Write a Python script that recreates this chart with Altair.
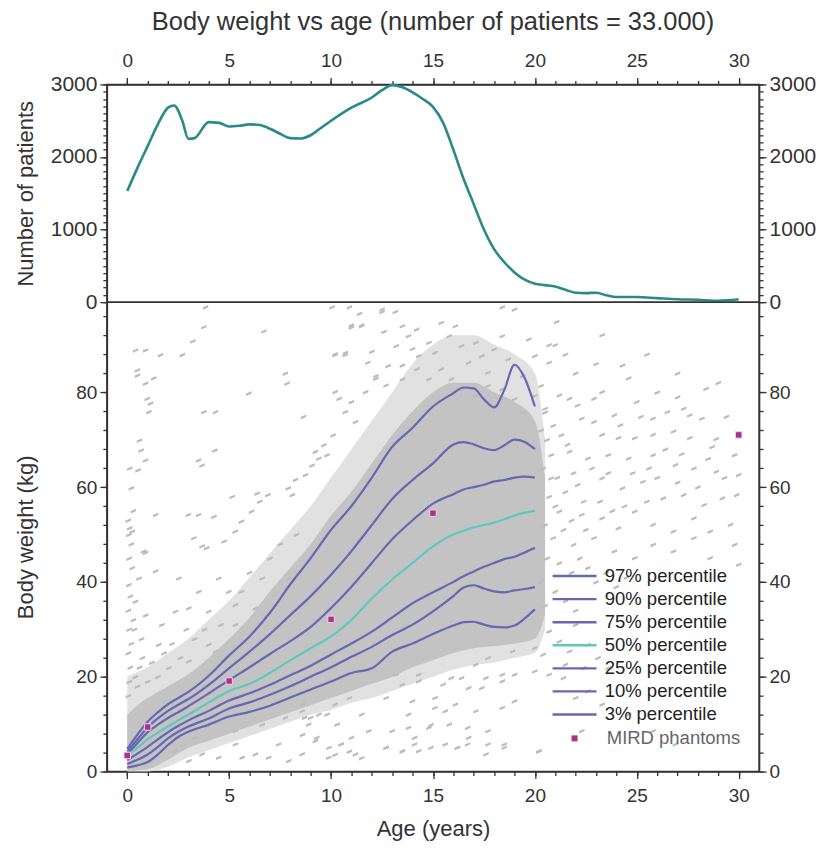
import altair as alt
import pandas as pd

FONT = "Liberation Sans"
TXT = "#333333"
X_DOMAIN = [-1, 31]
W, H_TOP, H_BOT = 653, 218, 470

# ---------------- top panel: number of patients per age ----------------
count_age = [0, 0.5, 1, 1.5, 2, 2.3, 2.7, 3, 3.3, 4, 4.5, 5, 5.5, 6, 6.5, 7, 7.5, 8, 8.5, 9, 9.5, 10,
             11, 12, 12.5, 13, 13.5, 14, 14.5, 15, 15.5, 16, 16.5, 17, 17.5, 18, 18.5, 19, 19.5, 20,
             20.5, 21, 21.5, 22, 22.5, 23, 23.5, 24, 25, 26, 27, 28, 29, 30]
count_n = [1530, 1850, 2150, 2450, 2680, 2710, 2500, 2250, 2260, 2480, 2470, 2420, 2430, 2450, 2440,
           2390, 2320, 2260, 2255, 2300, 2400, 2500, 2680, 2820, 2920, 2990, 2960, 2890, 2800, 2690,
           2470, 2100, 1700, 1350, 1000, 730, 550, 410, 310, 255, 235, 215, 170, 130, 125, 130, 95,
           70, 70, 55, 40, 33, 20, 40]

# ---------------- percentile curves ----------------
pct_age = [0, 0.5, 1, 1.5, 2, 2.5, 3, 4, 5, 6, 7, 8, 9, 10, 11, 12, 13, 14, 15, 16, 16.5, 17, 17.5,
           18, 18.5, 19, 19.5, 20]
p97 = [4.8, 7.8, 10.5, 12.5, 14.2, 15.5, 16.8, 20.2, 24.5, 28.5, 33.5, 39.5, 45, 51, 56, 62, 68.5,
       72.5, 77, 79.8, 81, 80.8, 78.5, 76.8, 80.5, 85.8, 83, 77]
p90 = [4.2, 6.8, 9.3, 11.2, 12.8, 14.1, 15.3, 18.3, 21.8, 25.3, 29, 33, 37, 41.5, 46.5, 52, 57.5,
       61.5, 65, 69, 69.5, 69, 68.2, 67.8, 68.8, 70, 69.5, 68]
p75 = [3.7, 6.0, 8.3, 9.9, 11.3, 12.5, 13.8, 16.5, 19.3, 22, 24.8, 27.5, 30.5, 34.5, 39, 44, 49, 53,
       56.5, 58.5, 59.5, 60, 60.5, 61.2, 61.5, 62, 62.2, 62]
p50 = [3.4, 5.0, 6.8, 8.2, 9.5, 10.8, 12, 14.6, 17, 18.5, 20.8, 23.5, 26, 28.5, 32, 36.5, 40.5, 44,
       47.5, 50, 50.8, 51.5, 52, 52.5, 53.2, 54, 54.6, 55]
p25 = [2.4, 3.8, 5.2, 6.8, 8.3, 9.6, 10.8, 12.8, 15, 16.5, 18.3, 20.3, 22.3, 24.7, 27, 29.5, 32.5,
       35.5, 37.8, 40, 41.2, 42.2, 43.2, 44, 44.8, 45.3, 46.2, 47.2]
p10 = [1.6, 2.5, 3.6, 5.2, 7, 8.4, 9.5, 11.2, 13.3, 14.6, 16.2, 18, 20, 22, 24.2, 26.3, 28.8, 31,
       33.8, 37, 38.8, 39.3, 38.6, 38, 37.8, 38.2, 38.5, 38.9]
p03 = [0.9, 1.3, 2, 3.6, 5.6, 7.3, 8.4, 9.9, 11.6, 12.6, 13.9, 15.6, 17.3, 19, 20.8, 21.8, 25.3, 27,
       29, 30.8, 31.5, 31.6, 31, 30.5, 30.4, 30.8, 32.3, 34.2]
pct_labels = ["97% percentile", "90% percentile", "75% percentile", "50% percentile",
              "25% percentile", "10% percentile", "3% percentile"]
pct_series = [p97, p90, p75, p50, p25, p10, p03]
pct_colors = ["#6767b3", "#6767b3", "#6767b3", "#5ec8bf", "#6767b3", "#6767b3", "#6767b3"]

# ---------------- MIRD phantoms ----------------
mird_age = [0, 1, 5, 10, 15, 30]
mird_kg = [3.4, 9.4, 19.1, 32.1, 54.5, 71.0]

# ---------------- patient cloud: dense core and lighter fringe ----------------
cloud_age = [0, 0.5, 1, 2, 3, 4, 5, 6, 7, 8, 9, 10, 11, 12, 13, 14, 15, 16, 17, 18, 19, 20, 20.5]
core_lo = [0.2, 0.3, 0.5, 2.5, 5, 6.5, 8, 9.5, 11, 12.5, 14, 15.5, 17, 18.5, 20, 22, 23.5, 25, 26,
           26.5, 27, 28, 33]
core_hi = [12, 14, 15.5, 18, 20.5, 24, 28, 32.5, 38, 43, 48, 54, 59, 65, 71, 76, 80, 82, 82, 80, 78,
           74, 62]
fringe_lo = [0, 0, 0, 1, 3, 4.5, 6, 7.5, 9, 10.5, 12, 13, 14.5, 15.5, 17, 18.5, 20, 21.5, 22.5, 23,
             24, 25, 30]
fringe_hi = [20, 21, 22, 25, 28, 32, 36, 41, 46, 51, 56, 62, 68, 74, 80, 86, 90, 92, 92, 90, 88, 84,
             70]

# ---------------- patient cloud: sparse individual patients ----------------
sc_age = [3.84, 3.76, 0.41, 0.9, 1.63, 2.7, 3.22, 0.5, 0.5, 0.9, 1.3, 0.98, 1.14, 1.06, 3.76, 4.33,
          5.96, 6.7, 7.76, 7.84, 8.65, 0.6, 0.68, 0.9, 0.12, 0.53, 0.2, 3.5, 3.67, 4.3, 5.15, 6.37,
          1.4, 3.0, 3.5, 4.25, 0.12, 0.25, 0.08, 0.8, 0.9, 3.27, 3.67, 3.9, 4.75, 5.3, 5.6, 6.1, 6.5,
          6.9, 7.9, 8.25, 8.1, 8.75, 9.4, 9.07, 9.64, 10.1, 9.23, 9.8, 10.2, 10.7, 11.0, 11.4, 11.5,
          12.0, 12.5, 13.15, 12.6, 10.05, 10.9, 10.2, 10.4, 10.7, 11.0, 11.2, 11.7, 12.2, 12.7, 13.5,
          14.0,
          18.4, 21.07, 23.3, 20.7, 21.0, 24.3, 24.6, 28.4, 23.3, 22.9, 20.5, 21.2, 21.7, 22.1, 22.3,
          22.9, 23.9, 24.2, 25.2, 25.8, 26.5, 27.3, 27.6, 28.2, 28.9, 29.4, 23.3, 24.1, 24.9, 25.8,
          26.8, 27.6, 28.7, 20.8, 21.7, 22.6, 23.6, 24.6, 25.8, 26.9, 27.8, 28.9, 29.8, 30.0, 29.9,
          20.8, 22.1, 23.3, 24.3, 25.3, 26.3, 27.3, 28.3, 29.2, 21.2, 22.3, 23.3, 24.1, 24.9, 25.8,
          26.8, 27.8, 28.6, 29.6, 20.9, 21.9, 22.9, 23.9, 24.9, 25.8, 26.8, 27.8, 28.6, 29.8, 30.0,
          20.3, 20.6, 20.9, 21.3, 21.6, 20.4, 20.7, 21.1, 21.5, 21.9, 22.4, 22.8, 20.5, 21.0, 21.4,
          21.8, 22.5, 20.6, 21.2, 21.8, 22.2, 22.6, 23.0, 23.5, 24.0, 24.5, 20.3, 21.0, 21.5, 22.0,
          20.5, 23.2, 23.8, 24.4, 25.5, 26.0, 27.0, 28.0, 23.6, 24.8, 25.6, 26.4, 27.2, 28.5, 29.3,
          25.0, 26.0, 27.0, 22.0, 23.0, 25.5, 27.0, 29.0, 21.5,
          13.5, 14.3, 15.1, 15.9, 16.75, 17.6, 18.4, 13.8, 14.9, 15.6, 16.75, 17.7, 18.5, 14.3, 16.2,
          17.6, 20.2, 20.7, 21.4, 22.6, 22.0, 23.3, 24.6, 25.8, 26.9, 22.3, 20.7, 21.2, 22.0, 22.6,
          21.7, 23.1, 23.6, 22.4, 20.4, 21.5,
          8.6, 8.7, 8.9, 9.0, 9.8, 10.3, 8.6, 9.3, 9.9, 10.5, 11.0, 10.2, 10.9, 11.5, 12.7, 13.5,
          14.1, 14.9, 15.6, 16.2, 16.7, 17.7, 18.5, 13.0, 13.8, 14.8, 15.8, 16.7, 12.7, 14.0, 15.1,
          16.1, 17.1, 18.4, 19.0, 13.2, 14.3, 15.5, 16.4, 17.4, 18.4, 19.0, 20.0, 17.1, 17.7, 18.9,
          20.0, 20.2,
          0.08, 0.41, 0.57, 1.39, 2.53, 3.02, 3.51, 4.0, 4.49, 4.98, 5.31, 4.0, 2.37, 1.55, 0.74,
          2.04, 3.02, 4.33, 5.31, 6.29, 7.27, 7.92, 6.62,
          2.37, 3.02, 3.67, 4.49, 5.31, 5.64, 6.29, 6.94, 7.43, 7.92, 8.58, 9.23, 9.88, 10.5, 11.2,
          11.85, 12.7, 13.5, 14.1, 5.31, 6.62, 7.76, 8.58, 9.4, 10.2, 10.9, 11.5, 4.0, 3.35, 4.65,
          0.05, 0.1, 0.15, 0.05, 0.2, 0.1, 0.3, 0.05, 0.15, 0.25, 0.1, 0.05, 0.3, 0.2, 0.4, 0.5,
          0.6, 0.7, 1.0, 1.2, 1.5, 1.8, 2.2, 2.6, 2.9, 0.35, 0.9, 1.7, 3.3, 3.8, 4.6, 5.6, 6.0, 7.0,
          7.5, 8.3,
          10.2, 10.7, 11.0, 11.5, 12.5, 11.8, 12.2, 12.8, 13.2, 13.5, 13.8, 14.2, 14.3, 14.8, 15.1,
          15.4, 15.8, 16.1, 16.4, 16.75, 17.1, 17.4, 17.7, 18.0, 18.4, 18.7, 19.0, 19.4, 19.7, 20.0,
          20.3, 20.7, 13.5, 14.2, 14.8, 15.4, 15.9, 16.4, 17.1, 17.7, 18.4, 19.0, 19.4, 20.0, 20.5]
sc_kg = [98.0, 93.8, 88.9, 88.9, 87.9, 87.9, 90.8, 84.7, 83.6, 81.9, 83.0, 78.7, 77.7, 75.9, 75.9,
         75.9, 79.8, 92.9, 84.0, 81.9, 74.9, 69.9, 67.8, 65.7, 64.0, 63.6, 59.8, 65.7, 64.6, 67.8,
         58.0, 58.7, 54.2, 54.2, 54.2, 53.8, 51.4, 50.7, 50.0, 46.5, 46.2, 49.3, 47.6, 47.2, 48.6,
         50.7, 52.8, 54.9, 57.0, 58.4, 59.8, 61.6, 58.4, 62.6, 66.1, 64.6, 68.9, 71.0, 67.5, 66.8,
         87.9, 87.9, 94.2, 96.6, 94.2, 88.6, 97.0, 97.0, 92.8, 98.0, 98.0, 80.1, 78.7, 75.9, 78.0,
         73.8, 80.1, 82.9, 81.5, 85.7, 89.2,
         98.0, 94.9, 92.1, 90.0, 90.0, 85.7, 83.0, 80.8, 80.1, 78.7, 76.6, 79.4, 78.7, 77.3, 74.5,
         73.8, 75.2, 73.1, 74.9, 74.5, 75.9, 76.6, 75.2, 74.5, 70.2, 74.9, 71.1, 70.4, 70.4, 71.1,
         71.8, 70.4, 68.5, 66.8, 67.5, 66.1, 66.8, 66.1, 66.8, 64.7, 64.0, 63.3, 66.8, 62.6, 58.4,
         61.9, 60.5, 61.9, 59.8, 61.2, 57.7, 58.4, 56.3, 57.7, 54.9, 54.2, 53.5, 51.4, 54.9, 52.1,
         50.7, 53.5, 50.7, 52.1, 49.3, 47.9, 49.3, 46.5, 45.1, 47.9, 46.5, 49.3, 45.1, 47.9, 43.7,
         72.0, 70.0, 73.0, 71.0, 69.0, 64.0, 58.0, 62.0, 59.0, 63.0, 57.0, 64.0, 52.0, 56.0, 51.0,
         53.0, 51.0, 45.0, 44.0, 42.0, 45.0, 43.0, 40.0, 42.0, 39.0, 41.0, 40.0, 38.0, 36.0, 34.0,
         35.0, 57.0, 55.0, 56.0, 57.0, 62.0, 61.0, 60.0, 63.0, 63.0, 64.0, 68.0, 67.0, 66.0, 62.0,
         78.0, 80.0, 79.0, 84.0, 86.0, 88.0, 84.0, 82.0, 88.0,
         18.4, 20.5, 15.6, 19.8, 17.7, 19.8, 20.5, 12.1, 9.9, 12.8, 7.2, 8.6, 5.8, 4.4, 5.1, 3.7,
         4.4, 20.5, 19.8, 17.0, 15.6, 14.2, 12.1, 8.6, 5.8, 8.6, 29.6, 27.5, 31.0, 26.8, 25.4, 24.0,
         21.9, 21.9, 24.7, 22.6,
         14.2, 11.4, 10.0, 11.4, 12.1, 10.0, 7.8, 7.2, 5.1, 5.8, 7.2, 3.6, 4.3, 2.9, 5.1, 4.3, 5.8,
         5.1, 5.8, 5.1, 5.8, 5.8, 5.1, 8.6, 9.3, 9.3, 10.0, 9.3, 15.6, 14.9, 13.5, 14.2, 12.8, 13.5,
         14.9, 20.5, 19.1, 18.4, 19.8, 17.7, 19.1, 20.5, 21.2, 22.6, 24.0, 25.4, 26.1, 4.3,
         39.4, 35.9, 40.8, 42.3, 40.8, 34.5, 38.0, 33.8, 40.8, 38.0, 35.2, 26.8, 33.8, 26.8, 24.0,
         21.9, 23.3, 25.4, 31.0, 34.5, 37.3, 40.8, 40.8,
         4.4, 2.3, 3.7, 3.0, 5.8, 3.0, 3.7, 3.0, 5.8, 2.3, 3.7, 6.5, 3.0, 5.8, 3.7, 8.6, 5.1, 4.4,
         7.2, 8.6, 9.9, 11.4, 12.8, 12.1, 14.2, 15.6, 12.1, 9.9, 7.2, 12.8,
         16.0, 19.0, 22.0, 25.0, 27.0, 30.0, 32.0, 34.0, 37.0, 43.0, 45.0, 53.0, 55.0, 48.0, 20.0,
         18.0, 22.0, 28.0, 19.0, 23.0, 20.0, 25.0, 27.0, 24.0, 30.0, 30.0, 33.0, 31.0, 28.0, 30.0,
         31.0, 38.0, 42.0, 45.0, 48.0, 50.0,
         88.1, 88.4, 93.7, 94.0, 97.5, 86.3, 83.5, 85.6, 89.8, 94.0, 91.9, 93.3, 87.7, 90.5, 88.4,
         94.7, 91.9, 94.0, 89.8, 86.3, 90.5, 87.7, 84.2, 89.1, 91.9, 87.0, 97.5, 83.5, 91.2, 87.7,
         81.4, 86.3, 82.8, 84.9, 82.8, 84.9, 82.8, 80.7, 79.3, 81.4, 80.7, 78.6, 75.8, 79.3, 75.8]

# ---------------- tables ----------------
top_df = pd.DataFrame({"age": count_age, "n": count_n})
pct_rows = []
for lab, ser in zip(pct_labels, pct_series):
    for a, v in zip(pct_age, ser):
        pct_rows.append({"age": a, "kg": v, "pct": lab})
pct_df = pd.DataFrame(pct_rows)
mird_df = pd.DataFrame({"age": mird_age, "kg": mird_kg, "name": ["MIRD phantoms"] * len(mird_age)})
cloud_df = pd.DataFrame({"age": cloud_age, "lo": core_lo, "hi": core_hi,
                         "flo": fringe_lo, "fhi": fringe_hi})
sc_df = pd.DataFrame({"age": sc_age, "kg": sc_kg})


# ---------------- axes ----------------
def base_axis(orient, values, label_font=19):
    return dict(orient=orient, values=values, format="d", labelFont=FONT,
                labelFontSize=label_font, labelColor=TXT, tickColor=TXT, tickWidth=1.3,
                domainColor=TXT, domainWidth=1.5, grid=False, labelOverlap=False,
                labelFlush=False, titleFont=FONT, titleFontSize=22, titleFontWeight="normal",
                titleColor=TXT)


def major_axis(orient, values, label_pad, title=None, label_font=19, **extra):
    kw = base_axis(orient, values, label_font)
    kw.update(tickSize=7, labelPadding=label_pad)
    kw.update(extra)
    kw["title"] = title
    return alt.Axis(**kw)


def minor_axis(orient, values):
    kw = base_axis(orient, values)
    kw.update(tickSize=4, labels=False, domain=False, title=None)
    return alt.Axis(**kw)


xs = alt.Scale(domain=X_DOMAIN, nice=False, zero=False)
ys_top = alt.Scale(domain=[0, 3000], nice=False)
ys_bot = alt.Scale(domain=[0, 99], nice=False)

X_MAJOR = list(range(0, 31, 5))
X_MINOR = list(range(0, 31))
YT_MAJOR = list(range(0, 3001, 1000))
YT_MINOR = list(range(0, 3001, 100))
YB_MAJOR = list(range(0, 81, 20))
YB_MINOR = list(range(0, 97, 4))


def guide_layer(df, xfield, yfield, xaxis, yscale, yaxis):
    # invisible marks that only carry an extra axis
    return alt.Chart(df).mark_point(opacity=0).encode(
        x=alt.X(xfield, scale=xs, axis=xaxis),
        y=alt.Y(yfield, scale=yscale, axis=yaxis),
    )


# ---------------- top panel ----------------
top_line = alt.Chart(top_df).mark_line(color="#2a8a8b", strokeWidth=2.6,
                                       interpolate="monotone").encode(
    x=alt.X("age:Q", scale=xs, axis=major_axis("top", X_MAJOR, 7)),
    y=alt.Y("n:Q", scale=ys_top,
            axis=major_axis("left", YT_MAJOR, 3, "Number of patients", label_font=21,
                            titleX=-69, titleY=H_TOP / 2, titleAngle=270, titleAlign="center",
                            titleBaseline="bottom")),
)
top = alt.layer(
    top_line,
    guide_layer(top_df, "age:Q", "n:Q", minor_axis("top", X_MINOR), ys_top,
                minor_axis("left", YT_MINOR)),
    guide_layer(top_df, "age:Q", "n:Q", None, ys_top,
                major_axis("right", YT_MAJOR, 3, label_font=21)),
    guide_layer(top_df, "age:Q", "n:Q", None, ys_top, minor_axis("right", YT_MINOR)),
).resolve_scale(x="independent", y="independent").properties(
    width=W, height=H_TOP,
    title=alt.TitleParams("Body weight vs age (number of patients = 33.000)", font=FONT,
                          fontSize=25.5, fontWeight="normal", color=TXT, anchor="middle",
                          frame="group", offset=15.5),
)

# ---------------- bottom panel ----------------
x_bot = alt.X("age:Q", scale=xs, axis=major_axis("bottom", X_MAJOR, 8, "Age (years)",
                                                 titlePadding=13))
yl_axis = major_axis("left", YB_MAJOR, 3, "Body weight (kg)", titleX=-69, titleY=H_BOT / 2,
                     titleAngle=270, titleAlign="center", titleBaseline="bottom")

fringe = alt.Chart(cloud_df).mark_area(color="#e1e1e1", interpolate="monotone").encode(
    x=x_bot, y=alt.Y("flo:Q", scale=ys_bot, axis=yl_axis), y2="fhi:Q")
core = alt.Chart(cloud_df).mark_area(color="#c3c3c3", interpolate="monotone").encode(
    x=x_bot, y=alt.Y("lo:Q", scale=ys_bot, axis=yl_axis), y2="hi:Q")
dots = alt.Chart(sc_df).mark_point(shape="M-1,0.1L1,-0.7L1,0.2L-1,1Z", size=30, filled=True,
                                    color="#bcbcbc", opacity=1, strokeWidth=0).encode(
    x=x_bot, y=alt.Y("kg:Q", scale=ys_bot, axis=yl_axis))
lines = alt.Chart(pct_df).mark_line(strokeWidth=2.2, interpolate="monotone").encode(
    x=x_bot, y=alt.Y("kg:Q", scale=ys_bot, axis=yl_axis),
    color=alt.Color("pct:N", scale=alt.Scale(domain=pct_labels, range=pct_colors),
                    legend=alt.Legend(title=None, orient="none", legendX=459, legendY=265,
                                      symbolType="M-4,0L4,0", symbolSize=121,
                                      symbolStrokeWidth=2.4, labelFont=FONT, labelFontSize=18.5,
                                      labelColor="#222222", labelOffset=21, rowPadding=4.1,
                                      padding=0, direction="vertical")),
    detail="pct:N",
)
mird = alt.Chart(mird_df).mark_point(shape="square", filled=True, size=42, color="#a8338f",
                                     stroke="#f0d0e6", strokeWidth=1, opacity=1).encode(
    x=x_bot, y=alt.Y("kg:Q", scale=ys_bot, axis=yl_axis),
    shape=alt.Shape("name:N", scale=alt.Scale(domain=["MIRD phantoms"], range=["square"]),
                    legend=alt.Legend(title=None, orient="none", legendX=459, legendY=427.5,
                                      symbolSize=36, symbolFillColor="#a8338f",
                                      symbolStrokeColor="#a8338f", symbolStrokeWidth=0,
                                      labelFont=FONT, labelFontSize=18.5, labelColor="#666666",
                                      labelOffset=23, padding=0)),
)
bot_main = alt.layer(fringe, core, dots, lines, mird)
bottom = alt.layer(
    bot_main,
    guide_layer(mird_df, "age:Q", "kg:Q", minor_axis("bottom", X_MINOR), ys_bot,
                minor_axis("left", YB_MINOR)),
    guide_layer(mird_df, "age:Q", "kg:Q", None, ys_bot, major_axis("right", YB_MAJOR, 3)),
    guide_layer(mird_df, "age:Q", "kg:Q", None, ys_bot, minor_axis("right", YB_MINOR)),
).resolve_scale(x="independent", y="independent").properties(width=W, height=H_BOT)

chart = alt.vconcat(top, bottom, spacing=0, bounds="flush").resolve_legend(
    color="independent", shape="independent"
).properties(
    padding={"left": 6, "right": 0, "top": 1, "bottom": 0}
).configure(font=FONT).configure_view(stroke=TXT, strokeWidth=1.5)

chart.save("out.html", embed_options={"renderer": "svg", "actions": False})
